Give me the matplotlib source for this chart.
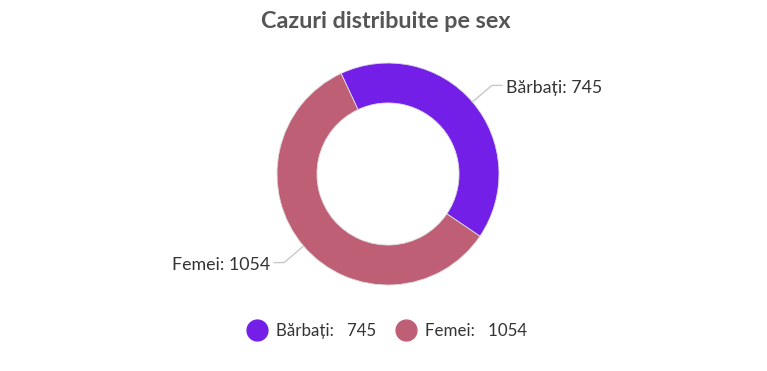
import numpy as np
import matplotlib.pyplot as plt
from matplotlib.lines import Line2D

plt.rcParams['font.family'] = ['Lato', 'DejaVu Sans']

# data
categories = ['Bărbați', 'Femei']
values = [745, 1054]
colors = ['#741fe8', '#bf5f76']
title = 'Cazuri distribuite pe sex'

W, H = 767, 371
fig = plt.figure(figsize=(W / 100, H / 100), dpi=100)
ax = fig.add_axes([0, 0, 1, 1])

cx, cy, R = 388, H - 174, 111
start = 115
wedges, _ = ax.pie(values, colors=colors, startangle=start, counterclock=False,
                   center=(cx, cy), radius=R, frame=True,
                   wedgeprops=dict(width=R * 0.36, linewidth=0.6, edgecolor='#dddddd'))
ax.set_xlim(0, W)
ax.set_ylim(0, H)
ax.set_aspect('equal')
ax.axis('off')

# outside labels with leader lines
for w, cat, val in zip(wedges, categories, values):
    mid = np.deg2rad((w.theta1 + w.theta2) / 2)
    x0, y0 = cx + R * np.cos(mid), cy + R * np.sin(mid)
    x1, y1 = cx + R * 1.23 * np.cos(mid), cy + R * 1.23 * np.sin(mid)
    side = 1 if np.cos(mid) >= 0 else -1
    x2 = x1 + side * 10
    ax.plot([x0, x1, x2], [y0, y1, y1], color='#c8c8c8', lw=1)
    ax.text(x2 + side * 4, y1 - 2.5, f'{cat}: {val}', ha='left' if side > 0 else 'right',
            va='center', fontsize=12.8, color='#333333')

ax.text(W / 2 + 2, H - 21, title, ha='center', va='center', fontsize=16.8,
        fontweight='bold', color='#555555')

handles = [Line2D([], [], marker='o', ls='none', markersize=15, color=c) for c in colors]
labels = [f'{c}:   {v}' for c, v in zip(categories, values)]
ax.legend(handles, labels, loc='center', bbox_to_anchor=(0.5, (H - 331) / H),
          ncol=2, frameon=False, fontsize=12.2, handletextpad=0.1,
          columnspacing=0.8, labelcolor='#333333')

fig.savefig('out.png', dpi=100)
